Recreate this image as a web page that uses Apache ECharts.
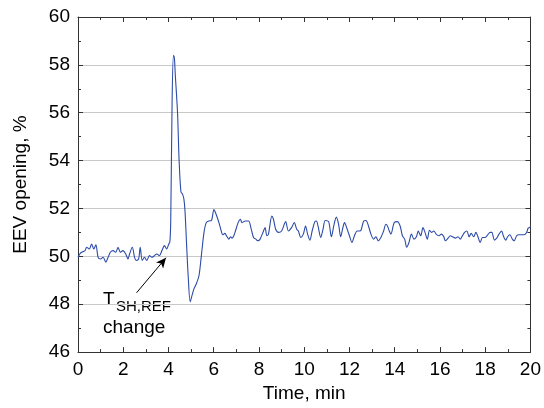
<!DOCTYPE html>
<html>
<head>
<meta charset="utf-8">
<script src="https://cdn.jsdelivr.net/npm/echarts@6/dist/echarts.min.js"></script>
<style>
  html, body { margin: 0; padding: 0; background: #fff; }
  #chart { width: 544px; height: 408px; }
</style>
</head>
<body>
<div id="chart"></div>
<script>
// time in minutes
const times = [
  0.0, 0.08, 0.16, 0.31, 0.38, 0.50, 0.60, 0.70, 0.79, 0.89, 0.99, 1.11, 1.23, 1.33, 1.43, 1.55,
  1.67, 1.77, 1.87, 1.99, 2.11, 2.21, 2.28, 2.40, 2.50, 2.57, 2.68, 2.75, 2.84, 2.94, 3.04, 3.16,
  3.27, 3.38, 3.48, 3.60, 3.71, 3.82, 3.92, 4.01, 4.06, 4.10, 4.16, 4.22, 4.26, 4.30, 4.40, 4.47,
  4.55, 4.62, 4.68, 4.73, 4.81, 4.87, 4.96, 5.05, 5.13, 5.25, 5.35, 5.45, 5.57, 5.67, 5.79, 5.90,
  6.01, 6.08, 6.23, 6.35, 6.40, 6.49, 6.59, 6.67, 6.74, 6.81, 6.89, 6.96, 7.08, 7.18, 7.25, 7.40,
  7.54, 7.66, 7.76, 7.86, 7.95, 8.05, 8.20, 8.27, 8.35, 8.42, 8.57, 8.64, 8.74, 8.86, 9.00, 9.18,
  9.30, 9.44, 9.56, 9.67, 9.74, 9.85, 9.96, 10.06, 10.15, 10.25, 10.35, 10.47, 10.54, 10.61, 10.73,
  10.83, 10.93, 11.08, 11.20, 11.32, 11.42, 11.52, 11.61, 11.71, 11.78, 11.90, 12.00, 12.11, 12.22,
  12.34, 12.44, 12.51, 12.63, 12.73, 12.84, 12.95, 13.07, 13.17, 13.27, 13.39, 13.51, 13.61, 13.68,
  13.76, 13.83, 13.98, 14.12, 14.24, 14.34, 14.44, 14.53, 14.63, 14.74, 14.85, 14.96, 15.04, 15.15,
  15.25, 15.34, 15.44, 15.54, 15.63, 15.73, 15.83, 15.95, 16.07, 16.17, 16.24, 16.36, 16.46, 16.56,
  16.68, 16.80, 16.90, 16.97, 17.09, 17.19, 17.29, 17.38, 17.49, 17.59, 17.68, 17.78, 17.88, 18.00,
  18.11, 18.22, 18.29, 18.41, 18.51, 18.61, 18.73, 18.80, 18.91, 18.99, 19.09, 19.20, 19.28, 19.39,
  19.49, 19.61, 19.72, 19.83, 19.90, 19.96, 20.0
];

// EEV opening in %
const opening = [
  49.96, 50.10, 50.17, 50.24, 50.38, 50.31, 50.51, 50.31, 50.48, 49.96, 49.89, 49.96, 49.76, 49.96, 50.17, 50.24,
  50.17, 50.38, 50.17, 50.24, 50.10, 49.89, 50.10, 50.38, 49.96, 49.83, 49.89, 50.38, 49.83, 49.96, 49.83, 50.03,
  49.96, 50.03, 50.10, 50.03, 50.24, 50.45, 50.31, 50.51, 50.60, 51.50, 56.50, 58.40, 58.30, 57.60, 56.00, 54.00,
  52.70, 52.60, 52.40, 51.90, 50.30, 49.20, 48.10, 48.40, 48.65, 48.90, 49.20, 50.00, 51.00, 51.41, 51.48, 51.50,
  51.96, 51.82, 51.41, 51.00, 50.90, 50.96, 50.82, 50.72, 50.82, 50.76, 50.86, 51.06, 51.41, 51.55, 51.41, 51.48,
  51.48, 51.13, 50.79, 50.72, 50.65, 50.72, 51.06, 51.20, 50.86, 50.93, 51.68, 51.55, 51.13, 51.00, 51.06, 51.45,
  51.06, 51.20, 51.41, 51.13, 51.06, 50.79, 50.93, 51.27, 50.93, 50.68, 51.06, 51.45, 51.48, 51.27, 50.79,
  51.13, 51.50, 51.45, 50.82, 51.34, 51.64, 51.34, 50.82, 51.20, 51.41, 51.13, 50.86, 50.58, 50.86,
  51.06, 51.06, 51.09, 51.48, 51.50, 51.27, 50.93, 50.72, 50.82, 50.65, 50.79, 51.06, 51.34, 51.27,
  51.06, 50.93, 51.41, 51.45, 51.27, 50.86, 50.72, 50.38, 50.58, 50.93, 50.72, 50.82, 51.06, 50.86,
  51.20, 51.00, 50.72, 51.09, 51.00, 51.06, 50.93, 50.86, 50.93, 50.82, 50.65, 50.76, 50.86, 50.82,
  50.76, 50.82, 50.72, 50.82, 51.00, 51.06, 50.82, 50.96, 50.82, 51.00, 50.82, 50.58, 50.79, 50.79,
  50.90, 51.00, 51.00, 50.68, 50.76, 50.93, 51.06, 50.86, 50.68, 50.82, 50.90, 50.72, 50.65, 50.86,
  50.90, 50.90, 50.90, 51.00, 51.18, 51.20, 51.25
];

const xTicks = { min: 0, max: 20, interval: 2 };
const yTicks = { min: 46, max: 60, interval: 2 };

// arrow for the T_SH,REF change note (tail -> tip, in data units)
const arrowFrom = [2.59, 48.48];
const arrowTo = [3.89, 49.94];

const font = 'Liberation Sans, Arial, sans-serif';
const axisColor = '#333';

const chart = echarts.init(document.getElementById('chart'), null, { renderer: 'canvas' });

function boxAxis(base, showLabels) {
  return Object.assign({
    type: 'value',
    axisLine: { show: true, onZero: false, lineStyle: { color: axisColor, width: 1 } },
    axisTick: { show: true, inside: true, length: 5, lineStyle: { color: axisColor } },
    minorTick: { show: true, splitNumber: 2, length: 3, lineStyle: { color: axisColor } },
    axisLabel: { show: showLabels, color: '#000', fontSize: 19, fontFamily: font },
    splitLine: { show: false }
  }, base);
}

const option = {
  animation: false,
  grid: { left: 78, right: 10, top: 17, bottom: 52 },
  xAxis: [
    boxAxis({
      min: xTicks.min, max: xTicks.max, interval: xTicks.interval, position: 'bottom',
      name: 'Time, min', nameLocation: 'middle', nameGap: 30,
      nameTextStyle: { color: '#000', fontSize: 19, fontFamily: font }
    }, true),
    boxAxis({ min: xTicks.min, max: xTicks.max, interval: xTicks.interval, position: 'top' }, false)
  ],
  yAxis: [
    boxAxis({
      min: yTicks.min, max: yTicks.max, interval: yTicks.interval, position: 'left',
      name: 'EEV opening, %', nameLocation: 'middle', nameGap: 48,
      nameTextStyle: { color: '#000', fontSize: 19, fontFamily: font },
      splitLine: { show: true, lineStyle: { color: '#c8c8c8', width: 1.2 } }
    }, true),
    boxAxis({ min: yTicks.min, max: yTicks.max, interval: yTicks.interval, position: 'right' }, false)
  ],
  series: [{
    type: 'line',
    data: times.map((t, i) => [t, opening[i]]),
    showSymbol: false,
    smooth: 0.3,
    lineStyle: { color: '#2c4ba8', width: 1.1 },
    markLine: {
      silent: true,
      symbol: ['none', 'arrow'],
      symbolSize: [7, 10],
      label: { show: false },
      lineStyle: { color: '#000', width: 1, type: 'solid' },
      data: [[{ coord: arrowFrom }, { coord: arrowTo }]]
    }
  }],
  graphic: [
    { type: 'text', x: 103, y: 300, style: { text: 'T', font: '19px ' + font, fill: '#000', verticalAlign: 'middle' } },
    { type: 'text', x: 116, y: 307, style: { text: 'SH,REF', font: '15px ' + font, fill: '#000', verticalAlign: 'middle' } },
    { type: 'text', x: 103, y: 328, style: { text: 'change', font: '19px ' + font, fill: '#000', verticalAlign: 'middle' } }
  ]
};

chart.setOption(option);
</script>
</body>
</html>
